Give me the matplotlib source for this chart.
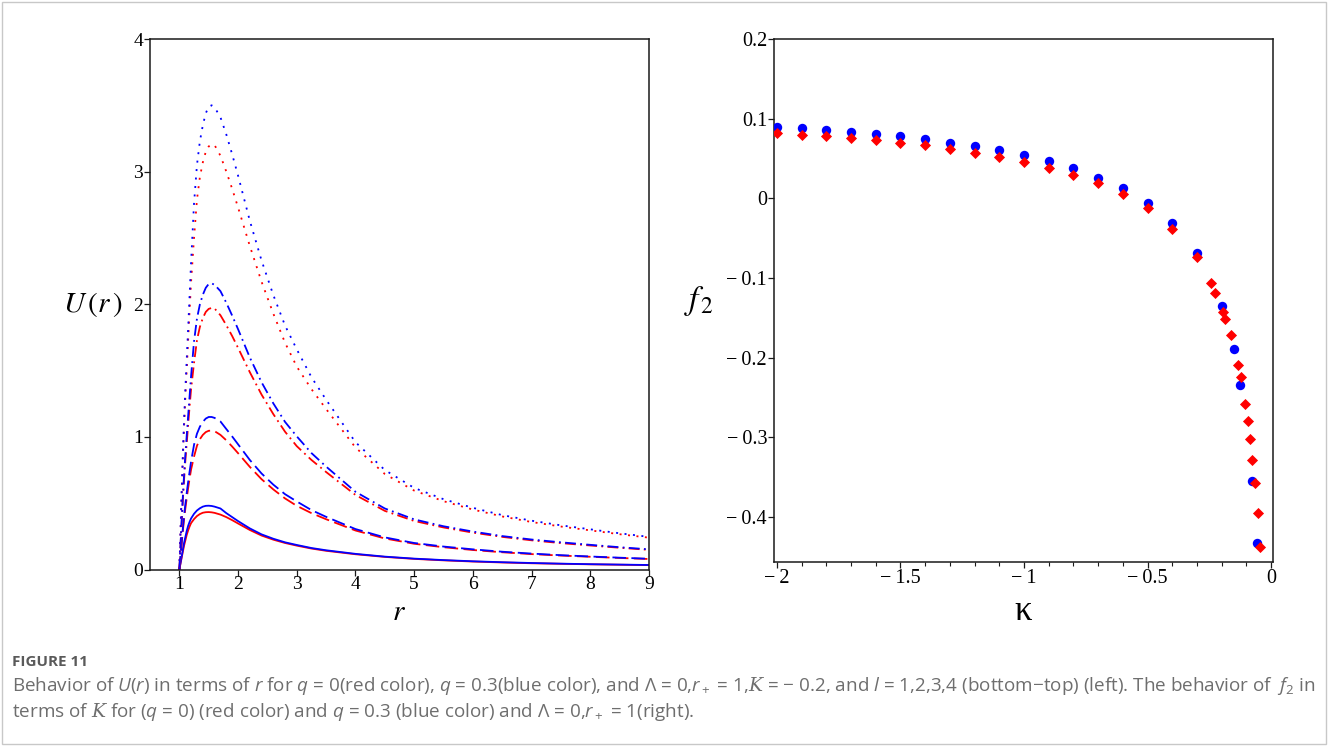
import matplotlib
matplotlib.use("Agg")
import matplotlib.pyplot as plt
from matplotlib.patches import Rectangle

plt.rcParams['mathtext.fontset'] = 'custom'
plt.rcParams['mathtext.rm'] = 'Open Sans'
plt.rcParams['mathtext.it'] = 'Open Sans:italic'
plt.rcParams['mathtext.cal'] = 'DejaVu Serif:italic'

# --- left panel: U(r) for l = 1..4, q = 0 (red) and q = 0.3 (blue)
r = [1.0, 1.02, 1.04, 1.06, 1.08, 1.1, 1.125, 1.15, 1.175, 1.2, 1.25, 1.3, 1.35,
     1.4, 1.45, 1.5, 1.55, 1.6, 1.7, 1.8, 1.9, 2.0, 2.2, 2.4, 2.6, 2.8, 3.0, 3.25,
     3.5, 4.0, 4.5, 5.0, 5.5, 6.0, 6.5, 7.0, 7.5, 8.0, 8.5, 9.0]

U_l1_blue = [0, 0.05, 0.1, 0.15, 0.2, 0.24, 0.29, 0.33, 0.36, 0.385, 0.42, 0.445, 0.462,
             0.474, 0.48, 0.481, 0.479, 0.474, 0.46, 0.425, 0.395, 0.365, 0.31, 0.265,
             0.232, 0.205, 0.185, 0.162, 0.145, 0.118, 0.097, 0.082, 0.071, 0.062,
             0.055, 0.049, 0.044, 0.04, 0.037, 0.034]
U_l2_blue = [0, 0.106, 0.211, 0.312, 0.404, 0.484, 0.577, 0.661, 0.74, 0.815, 0.94, 1.024,
             1.077, 1.113, 1.138, 1.15, 1.15, 1.143, 1.116, 1.059, 1.003, 0.944, 0.826,
             0.724, 0.64, 0.568, 0.513, 0.448, 0.397, 0.305, 0.242, 0.2, 0.173, 0.152,
             0.134, 0.12, 0.108, 0.098, 0.089, 0.081]
U_l3_blue = [0, 0.189, 0.378, 0.556, 0.711, 0.851, 1.007, 1.158, 1.31, 1.46, 1.72, 1.892,
             2.0, 2.072, 2.124, 2.153, 2.157, 2.147, 2.099, 2.011, 1.914, 1.812, 1.599,
             1.412, 1.253, 1.113, 1.004, 0.878, 0.776, 0.586, 0.46, 0.378, 0.326, 0.286,
             0.252, 0.226, 0.205, 0.186, 0.168, 0.152]
U_l4_blue = [0, 0.3, 0.6, 0.88, 1.12, 1.34, 1.58, 1.82, 2.07, 2.32, 2.76, 3.05, 3.23,
             3.35, 3.44, 3.49, 3.5, 3.485, 3.41, 3.28, 3.13, 2.97, 2.63, 2.33, 2.07,
             1.84, 1.66, 1.45, 1.28, 0.96, 0.75, 0.615, 0.53, 0.465, 0.41, 0.368, 0.333,
             0.303, 0.273, 0.246]

U_l1_red = [0, 0.045, 0.09, 0.135, 0.18, 0.215, 0.26, 0.295, 0.325, 0.35, 0.38, 0.403,
            0.418, 0.428, 0.432, 0.433, 0.431, 0.427, 0.414, 0.395, 0.372, 0.347, 0.298,
            0.256, 0.225, 0.2, 0.18, 0.158, 0.141, 0.115, 0.095, 0.08, 0.069, 0.06,
            0.053, 0.047, 0.043, 0.039, 0.036, 0.033]
U_l2_red = [0, 0.097, 0.194, 0.292, 0.378, 0.452, 0.536, 0.614, 0.688, 0.754, 0.851,
            0.933, 0.983, 1.015, 1.036, 1.046, 1.047, 1.043, 1.015, 0.974, 0.927, 0.877,
            0.774, 0.681, 0.604, 0.536, 0.48, 0.425, 0.379, 0.294, 0.234, 0.194, 0.168,
            0.147, 0.13, 0.116, 0.105, 0.096, 0.087, 0.079]
U_l3_red = [0, 0.176, 0.351, 0.527, 0.674, 0.807, 0.949, 1.092, 1.233, 1.361, 1.558,
            1.729, 1.83, 1.896, 1.942, 1.965, 1.972, 1.968, 1.917, 1.842, 1.76, 1.671,
            1.488, 1.319, 1.172, 1.039, 0.93, 0.826, 0.735, 0.562, 0.442, 0.366, 0.317,
            0.278, 0.246, 0.22, 0.199, 0.181, 0.164, 0.148]
U_l4_red = [0, 0.28, 0.56, 0.84, 1.07, 1.28, 1.5, 1.73, 1.96, 2.17, 2.5, 2.79, 2.96,
            3.07, 3.15, 3.19, 3.205, 3.2, 3.12, 3.0, 2.87, 2.73, 2.44, 2.17, 1.93, 1.71,
            1.53, 1.36, 1.21, 0.92, 0.72, 0.595, 0.515, 0.452, 0.4, 0.358, 0.324, 0.295,
            0.266, 0.24]

# --- right panel: f2 against kappa
kappa_blue = [-2.0, -1.9, -1.8, -1.7, -1.6, -1.5, -1.4, -1.3, -1.2, -1.1, -1.0, -0.9,
              -0.8, -0.7, -0.6, -0.5, -0.4, -0.3, -0.2, -0.15, -0.125, -0.075, -0.055]
f2_blue = [0.0897, 0.0877, 0.0855, 0.0834, 0.0805, 0.0776, 0.0742, 0.07, 0.0658, 0.0604,
           0.0541, 0.0465, 0.0377, 0.026, 0.0126, -0.0063, -0.031, -0.069, -0.135,
           -0.189, -0.234, -0.355, -0.433]
kappa_red = [-2.0, -1.9, -1.8, -1.7, -1.6, -1.5, -1.4, -1.3, -1.2, -1.1, -1.0, -0.9, -0.8,
             -0.7, -0.6, -0.5, -0.4, -0.3, -0.245, -0.227, -0.195, -0.186, -0.162,
             -0.134, -0.121, -0.105, -0.093, -0.085, -0.077, -0.065, -0.053, -0.045]
f2_red = [0.0822, 0.0801, 0.078, 0.0755, 0.0726, 0.0696, 0.0663, 0.0616, 0.0575, 0.052,
          0.0462, 0.0386, 0.0293, 0.019, 0.005, -0.0126, -0.038, -0.074, -0.106, -0.119,
          -0.143, -0.151, -0.171, -0.209, -0.224, -0.258, -0.279, -0.302, -0.328,
          -0.358, -0.395, -0.438]

xticks_right = [-2, -1.5, -1, -0.5, 0]
yticks_right = [0.2, 0.1, 0, -0.1, -0.2, -0.3, -0.4]

W, H = 1328, 746
fig = plt.figure(figsize=(W / 100, H / 100), dpi=100)
fig.patches.append(Rectangle((2 / W, 2 / H), 1 - 4 / W, 1 - 4 / H, transform=fig.transFigure,
                             fill=False, edgecolor='#c8c8c8', lw=1.0))

serif = 'Liberation Serif'
spine_c = '#1a1a1a'


def fmt(v):
    # maple style labels: long minus sign followed by a thin gap
    s = '%g' % abs(v)
    return ('\u2212\u2009' + s) if v < 0 else s


def style_axes(ax, fs):
    for s in ax.spines.values():
        s.set_color(spine_c)
        s.set_linewidth(1.1)
    ax.tick_params(which='major', direction='out', length=4, width=0.9, color=spine_c,
                   labelsize=fs, pad=1)
    ax.tick_params(which='minor', direction='out', length=3, width=0.8, color=spine_c)
    ax.tick_params(top=False, right=False)
    for lab in ax.get_xticklabels() + ax.get_yticklabels():
        lab.set_fontfamily(serif)


ax1 = fig.add_axes([150 / W, (H - 569.5) / H, 499 / W, 530.5 / H])
lw = 1.3
styles = {
    1: '-',
    2: (0, (7.5, 3.0)),
    3: (0, (6.0, 2.4, 1.0, 2.4)),
    4: (0, (1.1, 3.6)),
}
curves = [(U_l1_red, U_l1_blue, 1), (U_l2_red, U_l2_blue, 2),
          (U_l3_red, U_l3_blue, 3), (U_l4_red, U_l4_blue, 4)]
for red_vals, blue_vals, l in curves:
    ax1.plot(r, red_vals, color='#ff0000', lw=lw, linestyle=styles[l], dash_capstyle='butt')
    ax1.plot(r, blue_vals, color='#0000ff', lw=lw, linestyle=styles[l], dash_capstyle='butt')
ax1.set_xlim(0.5, 9.0)
ax1.set_ylim(0, 4)
ax1.set_xticks(range(1, 10))
ax1.set_yticks(range(0, 5))
style_axes(ax1, 14)
ax1.text(-0.115, 0.5, r'$U\,(r\,)$', transform=ax1.transAxes, ha='center', va='center',
         fontsize=21, math_fontfamily='stix')
ax1.text(0.5, -0.08, r'$r$', transform=ax1.transAxes, ha='center', va='center',
         fontsize=21, math_fontfamily='stix')

ax2 = fig.add_axes([774 / W, (H - 562) / H, 499 / W, 523 / H])
ax2.scatter(kappa_blue, f2_blue, s=46, marker='o', color='#0000ff', linewidths=0, zorder=3)
ax2.scatter(kappa_red, f2_red, s=32, marker='D', color='#ff0000', linewidths=0, zorder=4)
ax2.set_xlim(-2.012, 0.008)
ax2.set_ylim(-0.4566, 0.2)
ax2.set_xticks(xticks_right)
ax2.set_xticklabels([fmt(v) for v in xticks_right])
ax2.set_xticks([-1.9, -1.8, -1.7, -1.6, -1.4, -1.3, -1.2, -1.1, -0.9, -0.8, -0.7, -0.6,
                -0.4, -0.3, -0.2, -0.1], minor=True)
ax2.set_yticks(yticks_right)
ax2.set_yticklabels([fmt(v) for v in yticks_right])
style_axes(ax2, 14.5)
ax2.text(-0.15, 0.50, r'$f_{\,2}$', transform=ax2.transAxes, ha='center', va='center',
         fontsize=24, math_fontfamily='stix')
ax2.text(0.5, -0.095, '\u03ba', transform=ax2.transAxes, ha='center', va='center',
         fontsize=25, family=serif)

cap_c = '#6e6e6e'
fig.text(12 / W, 1 - 662 / H, 'FIGURE 11', fontsize=11, fontweight='bold', color='#5a5a5a',
         family='Open Sans', va='center')
line1 = (r'Behavior of $U(r)$ in terms of $r$ for $q$ = 0(red color), $q$ = 0.3(blue color), '
         r'and $\Lambda$ = 0,$r_+$ = 1,$\mathcal{K}$ = $-$ 0.2, and $l$ = 1,2,3,4 (bottom$-$top) '
         r'(left). The behavior of  $f_2$ in')
line2 = (r'terms of $\mathcal{K}$ for ($q$ = 0) (red color) and $q$ = 0.3 (blue color) and '
         r'$\Lambda$ = 0,$r_+$ = 1(right).')
fig.text(12 / W, 1 - 686 / H, line1, fontsize=13.6, color=cap_c, family='Open Sans', va='center',
         math_fontfamily='custom')
fig.text(12 / W, 1 - 712 / H, line2, fontsize=13.6, color=cap_c, family='Open Sans', va='center',
         math_fontfamily='custom')

fig.savefig('out.png', dpi=100)
